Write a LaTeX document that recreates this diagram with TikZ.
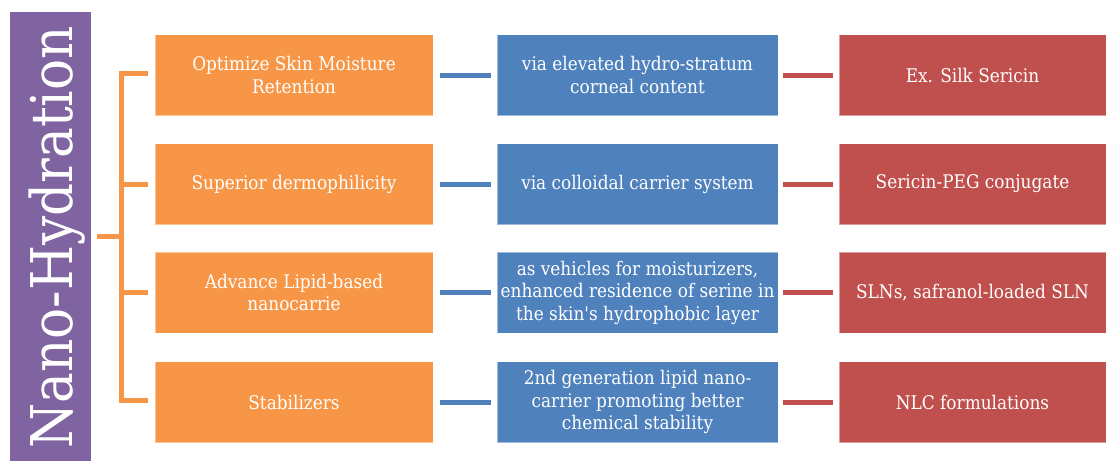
\documentclass[tikz,border=0pt]{standalone}
\usepackage{fontspec}
\setmainfont{DejaVu Serif Condensed}
\definecolor{cOrange}{HTML}{F79646}
\definecolor{cBlue}{HTML}{4F81BD}
\definecolor{cRed}{HTML}{C0504D}
\definecolor{cPurple}{HTML}{8064A2}
\tikzset{
  boxbase/.style={minimum height=81pt, inner sep=1pt, align=center, text=white,
    font=\fontsize{18.8}{22.5}\selectfont, draw=white, draw opacity=0.45, line width=0.8pt},
  obox/.style={boxbase, fill=cOrange, minimum width=278pt},
  bbox/.style={boxbase, fill=cBlue, minimum width=281pt},
  rbox/.style={boxbase, fill=cRed, minimum width=267pt},
  oline/.style={draw=cOrange, line width=5pt},
  bline/.style={draw=cBlue, line width=5pt},
  rline/.style={draw=cRed, line width=5pt},
}
\begin{document}
\begin{tikzpicture}[x=1pt,y=-1pt]
\useasboundingbox (0,0) rectangle (1106,461);
\fill[white] (0,0) rectangle (1106,461);
\node[fill=cPurple, minimum width=81pt, minimum height=449pt, inner sep=0pt, anchor=north west] (bar) at (10,12) {};
\node[rotate=90, anchor=base, text=white, inner sep=0pt, font=\fontsize{57.5}{57.5}\selectfont] (title) at (72,237.5) {Nano-Hydration};
% orange boxes
\node[obox] (o1) at (294,75) {Optimize Skin Moisture\\Retention};
\node[obox] (o2) at (294,184) {Superior dermophilicity};
\node[obox] (o3) at (294,292.5) {Advance Lipid-based\\nanocarrie};
\node[obox] (o4) at (294,402) {Stabilizers};
% blue boxes
\node[bbox] (b1) at (637.5,75) {via elevated hydro-stratum\\corneal content};
\node[bbox] (b2) at (637.5,184) {via colloidal carrier system};
\node[bbox] (b3) at (637.5,292.5) {as vehicles for moisturizers,\\enhanced residence of serine in\\the skin\textquotesingle s hydrophobic layer};
\node[bbox] (b4) at (637.5,402) {2nd generation lipid nano-\\carrier promoting better\\chemical stability};
% red boxes
\node[rbox] (r1) at (972.5,75) {Ex. Silk Sericin};
\node[rbox] (r2) at (972.5,184) {Sericin-PEG conjugate};
\node[rbox] (r3) at (972.5,292.5) {SLNs, safranol-loaded SLN};
\node[rbox] (r4) at (972.5,402) {NLC formulations};
% connectors
\foreach \i in {1,2,3,4}{
  \draw[bline] ([xshift=7pt]o\i.east) -- ([xshift=-6pt]b\i.west);
  \draw[rline] ([xshift=5pt]b\i.east) -- ([xshift=-6pt]r\i.west);
}
% bracket
\draw[oline] ([xshift=6pt]bar.east) -- ++(25,0);
\draw[oline] ([xshift=-7pt,yshift=2pt]o1.west) -- ++(-26,0) |- ([xshift=-7pt,yshift=2pt]o4.west);
\draw[oline] ([xshift=-7pt]o2.west) -- ++(-26,0);
\draw[oline] ([xshift=-7pt]o3.west) -- ++(-26,0);
\end{tikzpicture}
\end{document}
